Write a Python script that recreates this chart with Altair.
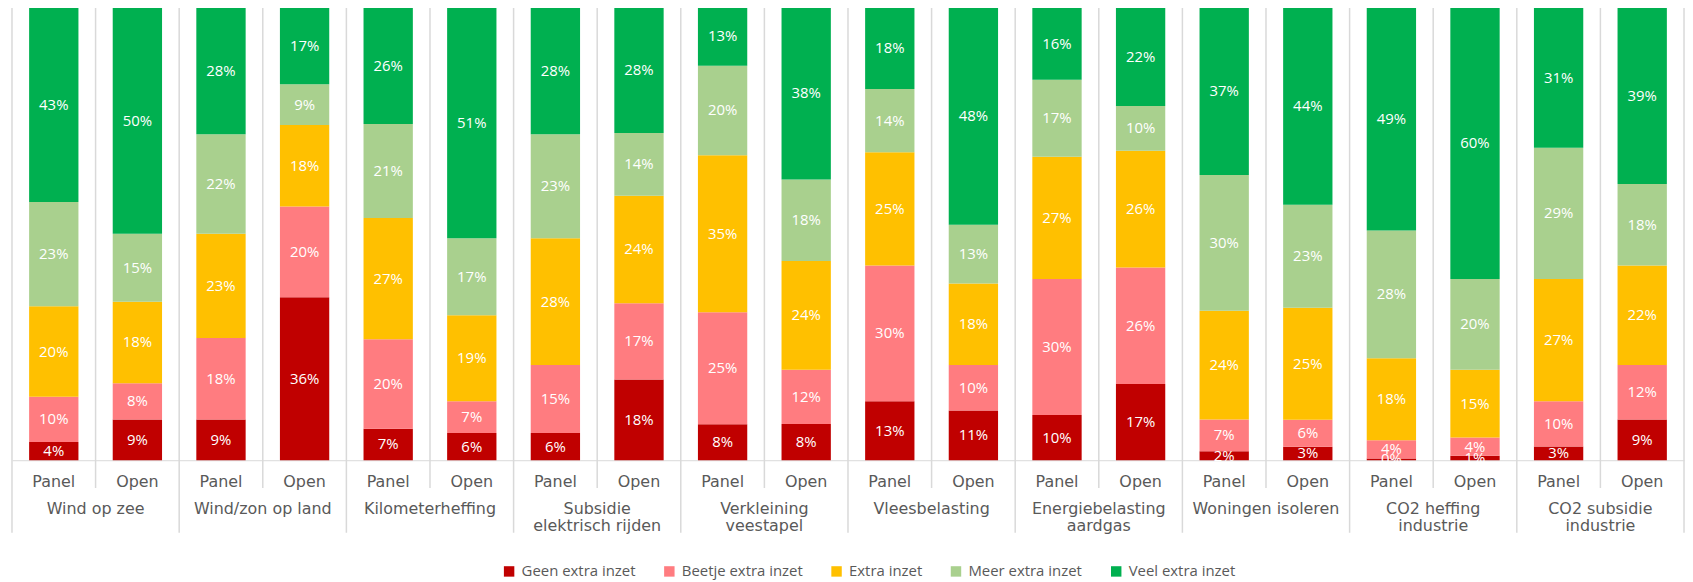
import altair as alt
import pandas as pd

groups = ["Wind op zee", "Wind/zon op land", "Kilometerheffing", "Subsidie elektrisch rijden",
          "Verkleining veestapel", "Vleesbelasting", "Energiebelasting aardgas",
          "Woningen isoleren", "CO2 heffing industrie", "CO2 subsidie industrie"]
group_labels = ["Wind op zee", "Wind/zon op land", "Kilometerheffing", "Subsidie\nelektrisch rijden",
                "Verkleining\nveestapel", "Vleesbelasting", "Energiebelasting\naardgas",
                "Woningen isoleren", "CO2 heffing\nindustrie", "CO2 subsidie\nindustrie"]
respondents = ["Panel", "Open"]
categories = ["Geen extra inzet", "Beetje extra inzet", "Extra inzet", "Meer extra inzet", "Veel extra inzet"]
colors = ["#C00000", "#FF7C80", "#FFC000", "#A9D08E", "#00B050"]

# values per bar, order: group1 Panel, group1 Open, group2 Panel, ...
geen = [4, 9, 9, 36, 7, 6, 6, 18, 8, 8, 13, 11, 10, 17, 2, 3, 0.4, 1, 3, 9]
beetje = [10, 8, 18, 20, 20, 7, 15, 17, 25, 12, 30, 10, 30, 26, 7, 6, 4, 4, 10, 12]
extra = [20, 18, 23, 18, 27, 19, 28, 24, 35, 24, 25, 18, 27, 26, 24, 25, 18, 15, 27, 22]
meer = [23, 15, 22, 9, 21, 17, 23, 14, 20, 18, 14, 13, 17, 10, 30, 23, 28, 20, 29, 18]
veel = [43, 50, 28, 17, 26, 51, 28, 28, 13, 38, 18, 48, 16, 22, 37, 44, 49, 60, 31, 39]

series = [geen, beetje, extra, meer, veel]
keys = [f"{g}|{r}" for g in groups for r in respondents]

rows = []
for ci, (cat, vals) in enumerate(zip(categories, series)):
    for k, v in zip(keys, vals):
        rows.append({"key": k, "category": cat, "order": ci, "value": v,
                     "label": f"{round(v)}%"})
df = pd.DataFrame(rows)

W, H = 1680, 455
FONT_AX = "DejaVu Sans"
GRAY = "#595959"
LINE = "#D9D9D9"

xscale = alt.Scale(domain=keys, paddingInner=0, paddingOuter=0)

base = alt.Chart(df).transform_stack(
    stack="value", as_=["y0", "y1"], groupby=["key"], offset="normalize",
    sort=[alt.SortField("order", "ascending")]
).transform_calculate(mid="(datum.y0 + datum.y1) / 2")

bars = base.mark_bar(width=alt.RelativeBandSize(0.59)).encode(
    x=alt.X("key:N", scale=xscale, sort=keys,
            axis=alt.Axis(title=None, labels=False, ticks=False, grid=False,
                          domainColor=LINE, domainWidth=1)),
    y=alt.Y("y0:Q", scale=alt.Scale(domain=[0, 1]), axis=None),
    y2="y1:Q",
    color=alt.Color("category:N", scale=alt.Scale(domain=categories, range=colors),
                    legend=alt.Legend(title=None, orient="none", direction="horizontal",
                                      legendX=492, legendY=559, symbolType="square",
                                      symbolSize=110, symbolStrokeWidth=0,
                                      labelFont="Open Sans", labelFontSize=15,
                                      labelColor=GRAY, labelOffset=5, columnPadding=26)),
    order=alt.Order("order:Q"),
)

texts = base.mark_text(color="white", font="Open Sans", fontSize=15, baseline="middle").encode(
    x=alt.X("key:N", scale=xscale, sort=keys),
    y=alt.Y("mid:Q", scale=alt.Scale(domain=[0, 1])),
    text="label:N",
)

sep_df = pd.DataFrame({"key": keys, "resp": [k.split("|")[1] for k in keys]})

resp_text = alt.Chart(sep_df).mark_text(
    font=FONT_AX, fontSize=16, color=GRAY, baseline="middle", align="center"
).encode(
    x=alt.X("key:N", scale=xscale, sort=keys),
    y=alt.value(H + 22),
    text="resp:N",
)

short_rules = alt.Chart(sep_df).transform_filter("datum.resp == 'Open'").mark_rule(
    color=LINE, strokeWidth=1.5).encode(
    x=alt.X("key:N", scale=xscale, sort=keys, bandPosition=0),
    y=alt.value(0), y2=alt.value(H + 28),
)
long_rules = alt.Chart(sep_df).transform_filter("datum.resp == 'Panel'").mark_rule(
    color=LINE, strokeWidth=1.5).encode(
    x=alt.X("key:N", scale=xscale, sort=keys, bandPosition=0),
    y=alt.value(0), y2=alt.value(H + 73),
)
end_rule = alt.Chart(sep_df.head(1)).mark_rule(color=LINE, strokeWidth=1.5).encode(
    x=alt.value(W), y=alt.value(0), y2=alt.value(H + 73),
)

glab_df = pd.DataFrame({"key": [f"{g}|Open" for g in groups], "glabel": group_labels})
group_text = alt.Chart(glab_df).mark_text(
    font=FONT_AX, fontSize=16, color=GRAY, baseline="top", lineBreak="\n", lineHeight=17
).encode(
    x=alt.X("key:N", scale=xscale, sort=keys, bandPosition=0),
    y=alt.value(H + 41),
    text="glabel:N",
)

chart = alt.layer(short_rules, long_rules, end_rule, bars, texts, resp_text, group_text).properties(
    width=W, height=H, padding={"left": 3, "top": -3, "right": 0, "bottom": 0}
).configure_view(stroke=None)

chart.save("out.html", embed_options={"renderer": "svg", "actions": False})
